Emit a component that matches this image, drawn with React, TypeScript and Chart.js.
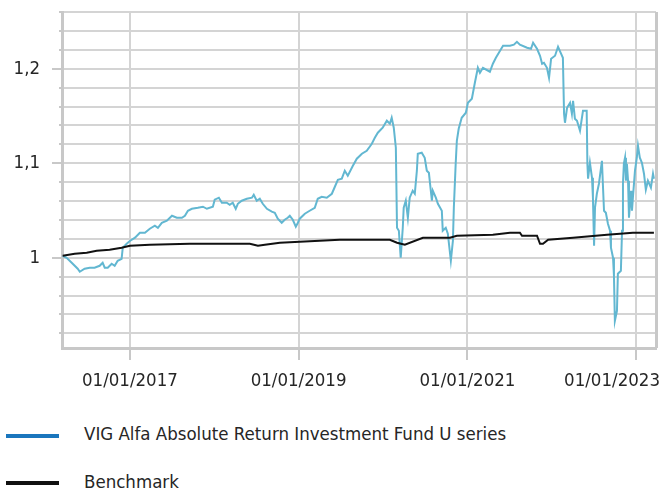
import React, { useEffect, useRef } from 'react';
import { Chart, registerables } from 'chart.js';

Chart.register(...registerables);

// ---- data ----
const seriesNames = ['VIG Alfa Absolute Return Investment Fund U series', 'Benchmark'];

const fundDates = [
  '2016-03-16', '2016-04-02', '2016-04-24', '2016-05-20', '2016-05-29', '2016-06-19', '2016-07-11', '2016-08-01',
  '2016-08-23', '2016-09-05', '2016-09-14', '2016-09-27', '2016-10-14', '2016-10-27', '2016-11-09', '2016-11-26',
  '2016-12-01', '2016-12-18', '2017-01-02', '2017-01-23', '2017-02-13', '2017-03-07', '2017-03-28', '2017-04-19',
  '2017-05-02', '2017-05-19', '2017-06-10', '2017-07-02', '2017-07-23', '2017-08-14', '2017-08-27', '2017-09-09',
  '2017-09-26', '2017-10-22', '2017-11-13', '2017-11-30', '2017-12-26', '2018-01-03', '2018-01-21', '2018-02-03',
  '2018-02-24', '2018-03-09', '2018-03-22', '2018-04-04', '2018-04-13', '2018-04-30', '2018-05-22', '2018-06-13',
  '2018-06-21', '2018-07-04', '2018-07-17', '2018-07-30', '2018-08-17', '2018-09-07', '2018-09-20', '2018-10-03',
  '2018-10-20', '2018-11-02', '2018-11-15', '2018-11-24', '2018-12-07', '2018-12-20', '2018-12-29', '2019-01-06',
  '2019-01-28', '2019-02-18', '2019-03-12', '2019-03-25', '2019-04-11', '2019-05-03', '2019-05-25', '2019-06-07',
  '2019-06-20', '2019-07-07', '2019-07-20', '2019-08-02', '2019-08-24', '2019-09-10', '2019-10-02', '2019-10-23',
  '2019-11-14', '2019-11-27', '2019-12-10', '2019-12-31', '2020-01-18', '2020-01-31', '2020-02-08', '2020-02-17',
  '2020-02-26', '2020-03-02', '2020-03-10', '2020-03-18', '2020-03-27', '2020-03-31', '2020-04-09', '2020-04-18',
  '2020-04-26', '2020-05-09', '2020-05-18', '2020-05-27', '2020-05-31', '2020-06-17', '2020-06-30', '2020-07-09',
  '2020-07-18', '2020-07-31', '2020-08-04', '2020-08-17', '2020-08-26', '2020-09-12', '2020-09-16', '2020-09-29',
  '2020-10-08', '2020-10-21', '2020-10-30', '2020-11-03', '2020-11-11', '2020-11-16', '2020-11-24', '2020-12-07',
  '2020-12-25', '2021-01-03', '2021-01-20', '2021-02-02', '2021-02-15', '2021-02-24', '2021-03-09', '2021-04-08',
  '2021-04-21', '2021-05-04', '2021-05-22', '2021-06-04', '2021-07-04', '2021-07-21', '2021-08-03', '2021-08-16',
  '2021-09-16', '2021-10-03', '2021-10-12', '2021-10-29', '2021-11-11', '2021-11-20', '2021-11-28', '2021-12-11',
  '2021-12-20', '2021-12-29', '2022-01-15', '2022-01-28', '2022-02-10', '2022-02-18', '2022-02-23', '2022-02-27',
  '2022-03-08', '2022-03-21', '2022-03-29', '2022-04-03', '2022-04-11', '2022-04-20', '2022-05-03', '2022-05-16',
  '2022-06-01', '2022-06-04', '2022-06-07', '2022-06-15', '2022-06-24', '2022-06-28', '2022-07-03', '2022-07-07',
  '2022-07-15', '2022-07-24', '2022-08-06', '2022-08-10', '2022-08-15', '2022-08-23', '2022-09-01', '2022-09-10',
  '2022-09-14', '2022-09-23', '2022-09-27', '2022-10-01', '2022-10-10', '2022-10-14', '2022-10-27', '2022-11-01',
  '2022-11-05', '2022-11-09', '2022-11-14', '2022-11-18', '2022-11-22', '2022-11-27', '2022-12-01', '2022-12-10',
  '2022-12-14', '2022-12-18', '2022-12-27', '2023-01-04', '2023-01-09', '2023-01-17', '2023-01-26', '2023-02-04',
  '2023-02-12', '2023-02-21', '2023-03-06', '2023-03-15', '2023-03-19',
];

const fundValues = [
  1.0021, 1.0, 0.9947, 0.9884, 0.9852, 0.9884, 0.9894, 0.9894,
  0.9915, 0.9947, 0.9894, 0.9894, 0.9937, 0.9915, 0.9968, 0.9989,
  1.0106, 1.0148, 1.018, 1.0212, 1.0265, 1.0265, 1.0307, 1.0339,
  1.0317, 1.037, 1.0392, 1.0444, 1.0423, 1.0423, 1.0444, 1.0497,
  1.0518, 1.0529, 1.054, 1.0518, 1.054, 1.0614, 1.0635, 1.0582,
  1.0582, 1.0561, 1.0582, 1.0518, 1.0571, 1.0603, 1.0624, 1.0635,
  1.0667, 1.0603, 1.0624, 1.0571, 1.0518, 1.0487, 1.0476, 1.0413,
  1.037, 1.0402, 1.0423, 1.0444, 1.0402, 1.0328, 1.037, 1.0413,
  1.0466, 1.0497, 1.0529, 1.0624, 1.0645, 1.0635, 1.0677, 1.0751,
  1.0825, 1.0836, 1.0921, 1.0868, 1.0974, 1.1048, 1.1101, 1.1132,
  1.1206, 1.127, 1.1323, 1.1376, 1.145, 1.1418, 1.1481, 1.1376,
  1.1164, 1.0317, 1.0286, 1.0, 1.0317, 1.0529, 1.0603, 1.0423,
  1.0635, 1.0709, 1.0677, 1.0921, 1.1101, 1.1111, 1.1058, 1.0921,
  1.0899, 1.0603, 1.0709, 1.0635, 1.0571, 1.0497, 1.0286, 1.0317,
  1.0254, 0.9968, 1.018, 1.0529, 1.0995, 1.1238, 1.1365, 1.1481,
  1.1534, 1.164, 1.1682, 1.1852, 1.201, 1.1957, 1.201, 1.1968,
  1.2053, 1.2116, 1.219, 1.2243, 1.2243, 1.2254, 1.2285, 1.2254,
  1.2222, 1.2211, 1.2275, 1.2211, 1.2137, 1.2053, 1.2063, 1.201,
  1.1904, 1.2106, 1.2137, 1.2232, 1.2159, 1.2116, 1.1524, 1.1428,
  1.1587, 1.164, 1.1524, 1.1661, 1.1471, 1.145, 1.1344, 1.1555,
  1.1555, 1.0995, 1.0836, 1.1005, 1.0846, 1.0635, 1.0127, 1.0529,
  1.0677, 1.0783, 1.1026, 1.0783, 1.0497, 1.0476, 1.036, 1.0286,
  1.0106, 1.0, 0.981, 0.9333, 0.9439, 0.9831, 0.9862, 1.0286,
  1.0783, 1.0995, 1.1058, 1.0815, 1.0995, 1.0815, 1.0423, 1.0709,
  1.0497, 1.0635, 1.0921, 1.1058, 1.1185, 1.1058, 1.1005, 1.0889,
  1.072, 1.0815, 1.0741, 1.0889, 1.0836,
];

const benchDates = [
  '2016-03-16', '2016-05-07', '2016-06-28', '2016-08-10', '2016-10-05', '2016-11-26', '2017-01-01', '2017-03-28',
  '2017-09-17', '2018-01-25', '2018-06-04', '2018-07-09', '2018-08-08', '2018-10-12', '2019-01-06', '2019-06-28',
  '2020-01-31', '2020-03-02', '2020-04-05', '2020-06-22', '2020-10-17', '2020-11-16', '2021-04-21', '2021-07-04',
  '2021-08-16', '2021-08-25', '2021-10-29', '2021-11-11', '2021-11-24', '2021-12-16', '2022-04-03', '2022-08-28',
  '2022-12-18', '2023-03-19',
];

const benchValues = [
  1.0021, 1.0042, 1.0053, 1.0074, 1.0085, 1.0106, 1.0127, 1.0138,
  1.0148, 1.0148, 1.0148, 1.0127, 1.0138, 1.0159, 1.0169, 1.019,
  1.019, 1.0159, 1.0138, 1.0212, 1.0212, 1.0233, 1.0243, 1.0265,
  1.0265, 1.0233, 1.0233, 1.0148, 1.0148, 1.019, 1.0212, 1.0243,
  1.0265, 1.0265,
];

const xTickDates = ['2017-01-01', '2019-01-01', '2021-01-01', '2023-01-01'];
const xTickLabels = ['01/01/2017', '01/01/2019', '01/01/2021', '01/01/2023'];
const xRange = ['2016-03-13', '2023-03-28'];
const yRange = [0.9045, 1.26];
const yGridSteps = [46, 63]; // grid every 0.02 (i / 50)
const yLabelEvery = 5; // label every 0.1

// ---- styles ----
const FONT = '"DejaVu Sans Condensed", "DejaVu Sans", sans-serif';
const FONT_SIZE = 18.5;
const TEXT = '#262626';
const GRID = '#d4d4d4';
const AXIS = '#c8c8c8';
const FUND_COLOR = '#62b7d1';
const FUND_LEGEND = '#1a76bd';
const BENCH_COLOR = '#111111';

const isMajor = (v: number) => Math.round(v * 50) % yLabelEvery === 0;

const axisExtras = {
  id: 'axisExtras',
  afterDraw(chart: any) {
    const { ctx, chartArea, scales } = chart;
    const xs = scales.x;
    const ys = scales.y;
    ctx.save();
    // right border
    ctx.strokeStyle = AXIS;
    ctx.lineWidth = 3;
    ctx.beginPath();
    ctx.moveTo(chartArea.right + 0.5, chartArea.top);
    ctx.lineTo(chartArea.right + 0.5, chartArea.bottom);
    ctx.stroke();
    // minor y tick marks
    ctx.lineWidth = 2;
    ctx.beginPath();
    ys.ticks.forEach((t: any) => {
      if (!isMajor(t.value)) {
        const py = Math.round(ys.getPixelForValue(t.value));
        ctx.moveTo(chartArea.left - 3, py);
        ctx.lineTo(chartArea.left, py);
      }
    });
    ctx.stroke();
    // x labels, kept inside the canvas
    ctx.font = `${FONT_SIZE}px ${FONT}`;
    ctx.fillStyle = TEXT;
    ctx.textAlign = 'center';
    ctx.textBaseline = 'alphabetic';
    xTickDates.forEach((d, i) => {
      const label = xTickLabels[i];
      const px = xs.getPixelForValue(Date.parse(d));
      const w = ctx.measureText(label).width;
      const cx = Math.min(px, chart.width - 4 - w / 2);
      ctx.fillText(label, cx, chartArea.bottom + 38);
    });
    ctx.restore();
  },
};

export default function App() {
  const canvasRef = useRef<HTMLCanvasElement | null>(null);

  useEffect(() => {
    const canvas = canvasRef.current;
    if (!canvas) return;
    const chart = new Chart(canvas, {
      type: 'line',
      data: {
        datasets: [
          {
            label: seriesNames[1],
            data: benchDates.map((d, i) => ({ x: Date.parse(d), y: benchValues[i] })),
            borderColor: BENCH_COLOR,
            borderWidth: 2,
            pointRadius: 0,
            tension: 0,
            order: 0,
          },
          {
            label: seriesNames[0],
            data: fundDates.map((d, i) => ({ x: Date.parse(d), y: fundValues[i] })),
            borderColor: FUND_COLOR,
            borderWidth: 2,
            pointRadius: 0,
            tension: 0,
            order: 1,
          },
        ],
      },
      options: {
        animation: false,
        responsive: false,
        devicePixelRatio: 1,
        layout: { padding: { top: 12, right: 8, left: 0, bottom: 0 } },
        plugins: { legend: { display: false }, tooltip: { enabled: false } },
        scales: {
          x: {
            type: 'linear',
            min: Date.parse(xRange[0]),
            max: Date.parse(xRange[1]),
            afterBuildTicks: (s: any) => {
              s.ticks = xTickDates.map((d) => ({ value: Date.parse(d) }));
            },
            ticks: { display: false, autoSkip: false },
            grid: { color: GRID, lineWidth: 2, drawTicks: true, tickLength: 12, tickWidth: 2, tickColor: AXIS },
            border: { display: true, color: AXIS, width: 3 },
            afterFit: (s: any) => {
              s.height = 52;
              s.paddingLeft = 0;
              s.paddingRight = 0;
            },
          },
          y: {
            type: 'linear',
            min: yRange[0],
            max: yRange[1],
            afterBuildTicks: (s: any) => {
              const arr: any[] = [];
              for (let i = yGridSteps[0]; i <= yGridSteps[1]; i++) arr.push({ value: i / 50 });
              s.ticks = arr;
            },
            ticks: {
              autoSkip: false,
              padding: 12,
              color: TEXT,
              font: { family: FONT, size: FONT_SIZE },
              callback: (v: any) => (isMajor(Number(v)) ? String(Math.round(Number(v) * 10) / 10).replace('.', ',') : ''),
            },
            grid: {
              color: GRID,
              lineWidth: 2,
              drawTicks: true,
              tickLength: 10,
              tickWidth: 2,
              tickColor: (c: any) => (c.tick && isMajor(c.tick.value) ? AXIS : 'rgba(0,0,0,0)'),
            },
            border: { display: true, color: AXIS, width: 3 },
            afterFit: (s: any) => {
              s.width = 62;
              s.paddingTop = 0;
              s.paddingBottom = 0;
            },
          },
        },
      },
      plugins: [axisExtras],
    } as any);
    return () => chart.destroy();
  }, []);

  const textStyle: React.CSSProperties = {
    position: 'absolute',
    left: 84,
    fontFamily: FONT,
    fontSize: FONT_SIZE,
    lineHeight: `${FONT_SIZE}px`,
    color: TEXT,
    whiteSpace: 'nowrap',
  };

  return (
    <div style={{ position: 'absolute', left: 0, top: 0, width: 664, height: 491, background: '#fff', overflow: 'hidden' }}>
      <canvas ref={canvasRef} width={664} height={400} style={{ position: 'absolute', left: 0, top: 0, width: 664, height: 400 }} />
      <div style={{ position: 'absolute', left: 6, top: 434, width: 53, height: 4, background: FUND_LEGEND }} />
      <div style={{ ...textStyle, top: 425 }}>{seriesNames[0]}</div>
      <div style={{ position: 'absolute', left: 6, top: 481, width: 53, height: 4, background: BENCH_COLOR }} />
      <div style={{ ...textStyle, top: 473 }}>{seriesNames[1]}</div>
    </div>
  );
}
